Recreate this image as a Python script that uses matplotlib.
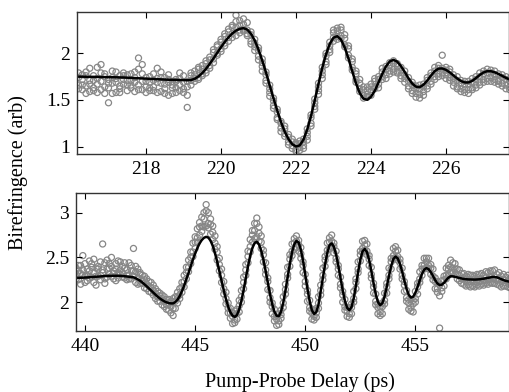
import numpy as np
import matplotlib
matplotlib.use("Agg")
import matplotlib.pyplot as plt
from matplotlib.ticker import FuncFormatter

plt.rcParams['font.family'] = ['Liberation Serif', 'DejaVu Serif']

# --- top panel: delay 216.2 .. 227.7 ps, 0.1 ps steps ---
top_delay = np.linspace(216.2, 227.7, 116)
top_fit = [
    1.750, 1.750, 1.749, 1.748, 1.748, 1.747, 1.746, 1.745, 1.745, 1.744,
    1.743, 1.742, 1.741, 1.739, 1.737, 1.735, 1.733, 1.731, 1.729, 1.727,
    1.725, 1.723, 1.721, 1.719, 1.717, 1.716, 1.715, 1.714, 1.713, 1.712,
    1.714, 1.727, 1.752, 1.788, 1.834, 1.888, 1.945, 2.006, 2.066, 2.122,
    2.172, 2.213, 2.244, 2.263, 2.270, 2.255, 2.210, 2.138, 2.040, 1.923,
    1.794, 1.655, 1.518, 1.387, 1.263, 1.160, 1.080, 1.026, 1.001, 1.013,
    1.075, 1.184, 1.327, 1.495, 1.672, 1.844, 1.988, 2.101, 2.168, 2.184,
    2.147, 2.062, 1.944, 1.808, 1.679, 1.575, 1.513, 1.502, 1.534, 1.598,
    1.687, 1.779, 1.860, 1.914, 1.930, 1.911, 1.863, 1.800, 1.732, 1.676,
    1.642, 1.638, 1.663, 1.708, 1.762, 1.809, 1.836, 1.838, 1.823, 1.796,
    1.763, 1.730, 1.703, 1.688, 1.688, 1.705, 1.735, 1.768, 1.795, 1.809,
    1.808, 1.797, 1.779, 1.758, 1.737, 1.720,
]
top_scan_a = [
    1.74, 1.61, 1.80, 1.67, 1.76, 1.58, 1.70, 1.78, 1.63, 1.57,
    1.73, 1.62, 1.79, 1.66, 1.71, 1.59, 1.83, 1.70, 1.64, 1.75,
    1.60, 1.73, 1.80, 1.62, 1.69, 1.57, 1.72, 1.66, 1.76, 1.55,
    1.79, 1.70, 1.83, 1.76, 1.92, 1.87, 2.04, 1.98, 2.15, 2.08,
    2.26, 2.17, 2.34, 2.22, 2.37, 2.21, 2.23, 2.03, 2.06, 1.81,
    1.80, 1.54, 1.52, 1.29, 1.27, 1.11, 1.13, 0.98, 1.04, 0.96,
    1.08, 1.07, 1.34, 1.40, 1.68, 1.73, 2.00, 2.01, 2.25, 2.15,
    2.28, 2.07, 2.08, 1.82, 1.81, 1.59, 1.64, 1.53, 1.67, 1.62,
    1.75, 1.72, 1.86, 1.78, 1.92, 1.79, 1.85, 1.69, 1.74, 1.57,
    1.65, 1.52, 1.67, 1.62, 1.79, 1.72, 1.87, 1.76, 1.85, 1.71,
    1.77, 1.62, 1.71, 1.58, 1.70, 1.61, 1.75, 1.66, 1.81, 1.70,
    1.82, 1.69, 1.78, 1.65, 1.75, 1.61,
]
top_scan_b = [
    1.62, 1.77, 1.65, 1.84, 1.60, 1.73, 1.88, 1.64, 1.72, 1.81,
    1.58, 1.76, 1.67, 1.60, 1.78, 1.69, 1.95, 1.61, 1.74, 1.63,
    1.78, 1.58, 1.68, 1.74, 1.55, 1.70, 1.63, 1.79, 1.58, 1.70,
    1.66, 1.81, 1.72, 1.87, 1.79, 1.96, 1.90, 2.09, 2.02, 2.21,
    2.13, 2.30, 2.19, 2.35, 2.24, 2.33, 2.10, 2.15, 1.93, 1.94,
    1.68, 1.66, 1.41, 1.40, 1.16, 1.22, 1.02, 1.08, 0.95, 1.06,
    0.98, 1.19, 1.22, 1.51, 1.56, 1.85, 1.88, 2.12, 2.13, 2.27,
    2.16, 2.20, 1.95, 1.94, 1.69, 1.72, 1.52, 1.64, 1.55, 1.73,
    1.63, 1.84, 1.73, 1.90, 1.80, 1.89, 1.73, 1.81, 1.62, 1.69,
    1.53, 1.66, 1.55, 1.74, 1.67, 1.85, 1.75, 1.98, 1.73, 1.83,
    1.65, 1.75, 1.59, 1.70, 1.57, 1.73, 1.63, 1.79, 1.69, 1.83,
    1.70, 1.81, 1.67, 1.77, 1.62, 1.73,
]
top_scan_c = [
    1.79, 1.66, 1.57, 1.71, 1.63, 1.85, 1.61, 1.75, 1.47, 1.68,
    1.80, 1.65, 1.72, 1.77, 1.63, 1.80, 1.66, 1.88, 1.58, 1.69,
    1.71, 1.84, 1.59, 1.67, 1.77, 1.63, 1.58, 1.73, 1.62, 1.42,
    1.76, 1.73, 1.85, 1.78, 1.89, 1.84, 2.01, 2.07, 2.05, 2.18,
    2.23, 2.28, 2.41, 2.25, 2.31, 2.19, 2.20, 2.07, 2.03, 1.86,
    1.77, 1.58, 1.49, 1.31, 1.25, 1.14, 1.05, 1.01, 0.97, 0.99,
    1.05, 1.15, 1.25, 1.47, 1.60, 1.77, 1.97, 2.04, 2.22, 2.24,
    2.25, 2.09, 2.05, 1.85, 1.78, 1.62, 1.61, 1.56, 1.64, 1.64,
    1.72, 1.75, 1.83, 1.81, 1.89, 1.81, 1.76, 1.73, 1.65, 1.60,
    1.62, 1.56, 1.64, 1.65, 1.76, 1.75, 1.84, 1.79, 1.82, 1.74,
    1.73, 1.64, 1.68, 1.61, 1.67, 1.63, 1.72, 1.69, 1.78, 1.73,
    1.79, 1.72, 1.70, 1.68, 1.72, 1.64,
]
top_scan_d = [
    1.66, 1.72, 1.76, 1.59, 1.71, 1.67, 1.79, 1.57, 1.68, 1.74,
    1.69, 1.58, 1.76, 1.71, 1.66, 1.74, 1.61, 1.78, 1.70, 1.60,
    1.64, 1.69, 1.74, 1.57, 1.72, 1.66, 1.70, 1.60, 1.69, 1.64,
    1.71, 1.77, 1.74, 1.83, 1.82, 1.93, 1.94, 2.00, 2.12, 2.11,
    2.17, 2.21, 2.28, 2.30, 2.26, 2.25, 2.13, 2.11, 1.97, 1.90,
    1.71, 1.62, 1.44, 1.37, 1.20, 1.19, 1.10, 1.05, 1.02, 1.03,
    1.01, 1.11, 1.31, 1.43, 1.64, 1.81, 1.91, 2.08, 2.17, 2.18,
    2.19, 2.16, 1.98, 1.91, 1.72, 1.68, 1.55, 1.60, 1.59, 1.70,
    1.67, 1.80, 1.77, 1.87, 1.83, 1.86, 1.81, 1.77, 1.70, 1.66,
    1.57, 1.62, 1.59, 1.71, 1.70, 1.81, 1.78, 1.84, 1.77, 1.80,
    1.69, 1.71, 1.62, 1.67, 1.61, 1.69, 1.66, 1.75, 1.72, 1.79,
    1.74, 1.77, 1.71, 1.74, 1.66, 1.70,
]

# --- bottom panel: delay 439.6 .. 459.3 ps, 0.1 ps steps ---
bot_delay = np.linspace(439.6, 459.3, 198)
bot_fit = [
    2.270, 2.271, 2.272, 2.273, 2.274, 2.276, 2.278, 2.280, 2.282, 2.284,
    2.286, 2.288, 2.290, 2.292, 2.293, 2.294, 2.295, 2.295, 2.295, 2.295,
    2.294, 2.292, 2.290, 2.287, 2.284, 2.282, 2.277, 2.267, 2.254, 2.239,
    2.220, 2.199, 2.177, 2.154, 2.130, 2.106, 2.083, 2.061, 2.041, 2.024,
    2.009, 1.998, 1.990, 1.986, 1.986, 2.000, 2.027, 2.068, 2.121, 2.184,
    2.254, 2.327, 2.402, 2.476, 2.544, 2.605, 2.656, 2.694, 2.719, 2.730,
    2.721, 2.687, 2.629, 2.548, 2.454, 2.349, 2.239, 2.133, 2.034, 1.950,
    1.887, 1.848, 1.835, 1.856, 1.918, 2.014, 2.135, 2.268, 2.400, 2.518,
    2.606, 2.661, 2.675, 2.645, 2.576, 2.474, 2.350, 2.217, 2.088, 1.977,
    1.893, 1.848, 1.844, 1.894, 1.992, 2.128, 2.278, 2.429, 2.557, 2.646,
    2.685, 2.666, 2.588, 2.462, 2.308, 2.149, 2.010, 1.910, 1.868, 1.887,
    1.971, 2.119, 2.262, 2.422, 2.551, 2.636, 2.657, 2.618, 2.532, 2.409,
    2.270, 2.132, 2.015, 1.937, 1.910, 1.945, 2.042, 2.183, 2.337, 2.474,
    2.567, 2.595, 2.560, 2.472, 2.348, 2.213, 2.089, 2.001, 1.966, 1.988,
    2.061, 2.170, 2.293, 2.402, 2.482, 2.510, 2.488, 2.428, 2.340, 2.240,
    2.148, 2.081, 2.051, 2.061, 2.104, 2.169, 2.245, 2.314, 2.363, 2.380,
    2.369, 2.335, 2.292, 2.246, 2.209, 2.191, 2.195, 2.216, 2.246, 2.273,
    2.289, 2.288, 2.283, 2.276, 2.270, 2.264, 2.259, 2.256, 2.254, 2.253,
    2.252, 2.252, 2.253, 2.255, 2.258, 2.262, 2.267, 2.273, 2.278, 2.281,
    2.281, 2.277, 2.268, 2.257, 2.246, 2.238, 2.232, 2.228,
]
bot_scan_a = [
    2.38, 2.25, 2.41, 2.30, 2.22, 2.37, 2.46, 2.28, 2.33, 2.19,
    2.40, 2.30, 2.65, 2.26, 2.37, 2.43, 2.29, 2.35, 2.24, 2.46,
    2.31, 2.40, 2.27, 2.36, 2.44, 2.26, 2.60, 2.34, 2.20, 2.31,
    2.21, 2.29, 2.15, 2.23, 2.11, 2.19, 2.04, 2.12, 2.01, 2.08,
    1.95, 2.03, 1.91, 2.01, 1.93, 2.06, 1.99, 2.15, 2.11, 2.30,
    2.26, 2.47, 2.43, 2.66, 2.60, 2.82, 2.75, 2.95, 2.84, 3.02,
    2.83, 2.93, 2.70, 2.74, 2.47, 2.49, 2.22, 2.23, 1.98, 1.99,
    1.82, 1.88, 1.77, 1.92, 1.89, 2.13, 2.15, 2.42, 2.44, 2.70,
    2.67, 2.88, 2.73, 2.84, 2.60, 2.58, 2.31, 2.27, 2.00, 1.99,
    1.79, 1.86, 1.75, 1.91, 1.94, 2.20, 2.27, 2.53, 2.52, 2.71,
    2.61, 2.69, 2.49, 2.45, 2.18, 2.13, 1.90, 1.92, 1.80, 1.93,
    1.93, 2.19, 2.25, 2.51, 2.54, 2.72, 2.62, 2.66, 2.45, 2.41,
    2.16, 2.12, 1.91, 1.94, 1.83, 1.98, 2.00, 2.26, 2.33, 2.57,
    2.56, 2.69, 2.53, 2.52, 2.27, 2.21, 1.97, 1.98, 1.85, 1.99,
    1.98, 2.21, 2.26, 2.49, 2.48, 2.62, 2.47, 2.48, 2.26, 2.23,
    2.01, 2.03, 1.90, 2.02, 2.00, 2.21, 2.22, 2.41, 2.37, 2.49,
    2.37, 2.42, 2.25, 2.27, 2.11, 2.19, 2.12, 2.29, 2.26, 2.41,
    2.33, 2.44, 2.31, 2.37, 2.24, 2.32, 2.20, 2.29, 2.19, 2.30,
    2.18, 2.29, 2.19, 2.31, 2.20, 2.30, 2.21, 2.33, 2.22, 2.35,
    2.21, 2.31, 2.19, 2.29, 2.18, 2.28, 2.17, 2.27,
]
bot_scan_b = [
    2.26, 2.41, 2.32, 2.52, 2.29, 2.24, 2.35, 2.43, 2.22, 2.38,
    2.29, 2.45, 2.36, 2.21, 2.47, 2.31, 2.40, 2.26, 2.43, 2.33,
    2.45, 2.28, 2.38, 2.25, 2.30, 2.41, 2.35, 2.22, 2.37, 2.21,
    2.30, 2.16, 2.26, 2.12, 2.22, 2.08, 2.15, 2.01, 2.10, 1.97,
    2.06, 1.92, 2.03, 1.88, 2.04, 1.93, 2.11, 2.04, 2.22, 2.17,
    2.39, 2.34, 2.56, 2.51, 2.73, 2.67, 2.89, 2.79, 3.00, 2.85,
    3.00, 2.76, 2.85, 2.59, 2.62, 2.35, 2.37, 2.09, 2.11, 1.88,
    1.93, 1.76, 1.90, 1.81, 2.02, 2.00, 2.28, 2.30, 2.57, 2.56,
    2.80, 2.71, 2.88, 2.68, 2.74, 2.45, 2.44, 2.14, 2.13, 1.87,
    1.92, 1.74, 1.87, 1.82, 2.06, 2.09, 2.39, 2.40, 2.65, 2.59,
    2.74, 2.57, 2.61, 2.33, 2.31, 2.01, 2.02, 1.81, 1.91, 1.83,
    2.06, 2.08, 2.38, 2.40, 2.66, 2.60, 2.75, 2.55, 2.57, 2.30,
    2.28, 2.00, 2.03, 1.84, 1.94, 1.87, 2.12, 2.15, 2.45, 2.46,
    2.68, 2.58, 2.65, 2.41, 2.39, 2.10, 2.09, 1.87, 1.95, 1.87,
    2.10, 2.10, 2.38, 2.37, 2.60, 2.50, 2.58, 2.37, 2.38, 2.12,
    2.13, 1.92, 2.03, 1.89, 2.12, 2.09, 2.34, 2.30, 2.49, 2.38,
    2.49, 2.31, 2.37, 2.15, 2.23, 2.07, 2.24, 2.18, 2.38, 2.30,
    2.47, 2.33, 2.43, 2.26, 2.36, 2.21, 2.32, 2.18, 2.31, 2.17,
    2.30, 2.17, 2.31, 2.18, 2.32, 2.19, 2.34, 2.20, 2.35, 2.21,
    2.36, 2.20, 2.33, 2.17, 2.31, 2.18, 2.30, 2.16,
]
bot_scan_c = [
    2.31, 2.35, 2.20, 2.36, 2.43, 2.30, 2.27, 2.39, 2.48, 2.29,
    2.37, 2.25, 2.33, 2.44, 2.28, 2.38, 2.50, 2.32, 2.37, 2.27,
    2.36, 2.33, 2.44, 2.30, 2.26, 2.35, 2.29, 2.40, 2.27, 2.33,
    2.24, 2.25, 2.20, 2.18, 2.16, 2.13, 2.10, 2.06, 2.07, 2.04,
    2.01, 1.97, 1.99, 1.95, 1.85, 2.01, 2.06, 2.08, 2.17, 2.23,
    2.33, 2.39, 2.50, 2.56, 2.67, 2.72, 2.84, 2.85, 2.93, 3.09,
    2.88, 2.87, 2.78, 2.66, 2.56, 2.42, 2.30, 2.15, 2.04, 1.93,
    1.88, 1.84, 1.80, 1.87, 1.96, 2.06, 2.22, 2.36, 2.51, 2.62,
    2.75, 2.80, 2.94, 2.77, 2.67, 2.53, 2.36, 2.23, 2.05, 1.95,
    1.84, 1.81, 1.79, 1.86, 1.99, 2.14, 2.31, 2.48, 2.57, 2.66,
    2.68, 2.64, 2.54, 2.41, 2.23, 2.09, 1.94, 1.88, 1.84, 1.88,
    1.99, 2.13, 2.30, 2.47, 2.58, 2.67, 2.68, 2.62, 2.49, 2.37,
    2.20, 2.08, 1.95, 1.90, 1.87, 1.94, 2.04, 2.22, 2.37, 2.53,
    2.60, 2.64, 2.57, 2.48, 2.31, 2.17, 2.01, 1.94, 1.89, 1.95,
    2.02, 2.17, 2.30, 2.45, 2.52, 2.57, 2.51, 2.44, 2.30, 2.19,
    2.05, 1.99, 1.94, 1.98, 2.04, 2.17, 2.26, 2.37, 2.41, 2.45,
    2.41, 2.38, 2.29, 2.23, 2.15, 1.71, 2.16, 2.25, 2.30, 2.37,
    2.39, 2.38, 2.37, 2.31, 2.30, 2.26, 2.26, 2.23, 2.25, 2.23,
    2.25, 2.23, 2.25, 2.23, 2.26, 2.24, 2.27, 2.25, 2.28, 2.26,
    2.28, 2.25, 2.26, 2.23, 2.25, 2.22, 2.24, 2.22,
]

top_xticks = [218, 220, 222, 224, 226]
top_yticks = [1, 1.5, 2]
bot_xticks = [440, 445, 450, 455]
bot_yticks = [2, 2.5, 3]

fig = plt.figure(figsize=(5.10, 3.92), dpi=100)
ax_top = fig.add_axes([0.151, 0.607, 0.847, 0.363])
ax_bot = fig.add_axes([0.149, 0.156, 0.849, 0.351])

# open grey circles for the measured scans
dot_style = dict(s=19, facecolors='none', edgecolors='#878787', linewidths=0.9)

for scan in (top_scan_a, top_scan_b, top_scan_c, top_scan_d):
    ax_top.scatter(top_delay, scan, **dot_style)
ax_top.plot(top_delay, top_fit, color='black', lw=1.8)
ax_top.set_xlim(216.16, 227.68)
ax_top.set_ylim(0.92, 2.446)
ax_top.set_xticks(top_xticks)
ax_top.set_yticks(top_yticks)

for scan in (bot_scan_a, bot_scan_b, bot_scan_c):
    ax_bot.scatter(bot_delay, scan, **dot_style)
ax_bot.plot(bot_delay, bot_fit, color='black', lw=1.8)
ax_bot.set_xlim(439.59, 459.25)
ax_bot.set_ylim(1.679, 3.217)
ax_bot.set_xticks(bot_xticks)
ax_bot.set_yticks(bot_yticks)

for ax in (ax_top, ax_bot):
    ax.yaxis.set_major_formatter(FuncFormatter(lambda v, p: f'{v:g}'))
    ax.tick_params(direction='in', top=True, right=True, length=4,
                   width=0.8, labelsize=14, pad=5)
    for sp in ax.spines.values():
        sp.set_linewidth(1.0)
        sp.set_color('#333333')

fig.text(0.035, 0.56, 'Birefringence (arb)', rotation=90,
         ha='center', va='center', fontsize=14.5)
fig.text(0.588, 0.026, 'Pump-Probe Delay (ps)', ha='center', va='center',
         fontsize=14.5)

plt.savefig('out.png', dpi=100)
plt.close()
